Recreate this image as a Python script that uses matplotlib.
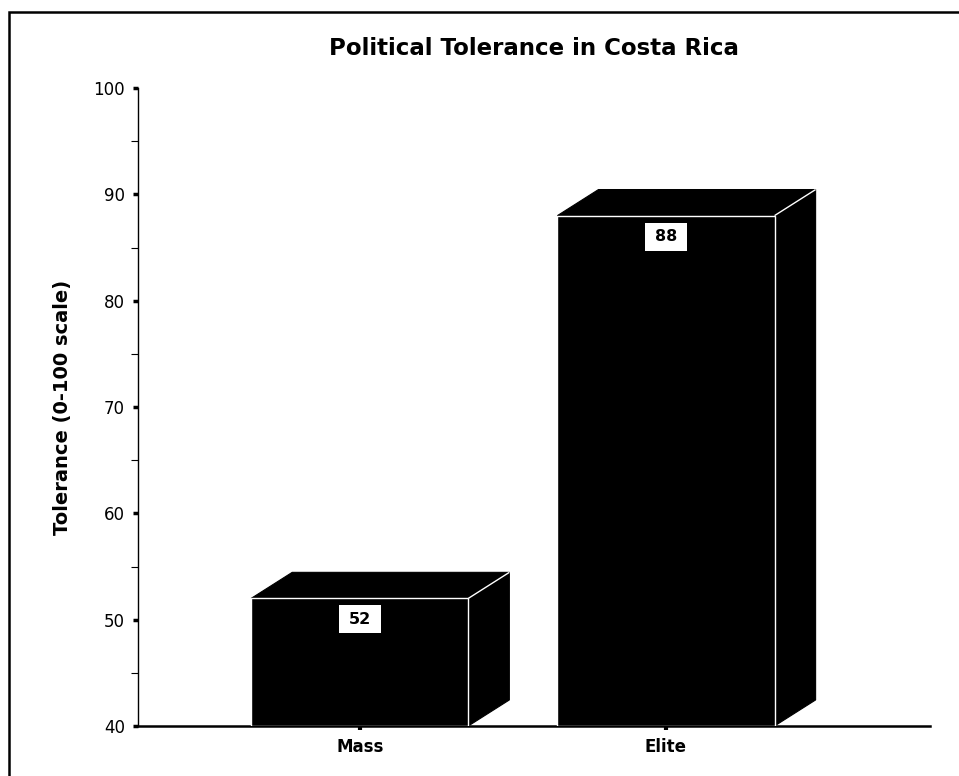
import matplotlib
matplotlib.use("Agg")
import matplotlib.pyplot as plt
from matplotlib.patches import Polygon, Rectangle

# Data
categories = ["Mass", "Elite"]
tolerance = [52, 88]
y_ticks = [40, 50, 60, 70, 80, 90, 100]
title_text = "Political Tolerance in Costa Rica"
y_label = "Tolerance (0-100 scale)"

BASE = 40
BAR_W = 0.709
DX, DY = 0.134, 2.45  # 3D depth offset in data units

plt.rcParams["font.family"] = ["DejaVu Sans"]

fig = plt.figure(figsize=(9.59, 7.76), dpi=100)
ax = fig.add_axes([138 / 959, 50 / 776, 792 / 959, 638 / 776])

xs = list(range(len(categories)))

for x, v in zip(xs, tolerance):
    left, right = x - BAR_W / 2, x + BAR_W / 2
    top = Polygon([(left, v), (right, v), (right + DX, v + DY), (left + DX, v + DY)],
                  closed=True, facecolor="black", edgecolor="black", lw=0.8, zorder=2)
    side = Polygon([(right, BASE), (right + DX, BASE + DY), (right + DX, v + DY), (right, v)],
                   closed=True, facecolor="black", edgecolor="black", lw=0.8, zorder=2)
    ax.add_patch(top)
    ax.add_patch(side)
    ax.plot([right, right + DX], [v, v + DY], color="white", lw=1.0, zorder=3,
            solid_capstyle="butt")

ax.bar(xs, [v - BASE for v in tolerance], bottom=BASE, width=BAR_W,
       color="black", edgecolor="white", linewidth=1.0, zorder=3)

# Value labels in white boxes near the top of each front face
box_w, box_h, box_gap = 0.137, 2.63, 0.66
for x, v in zip(xs, tolerance):
    ax.add_patch(Rectangle((x - box_w / 2, v - box_gap - box_h), box_w, box_h,
                           facecolor="white", edgecolor="none", zorder=4))
    ax.text(x, v - box_gap - box_h / 2, f"{v}", ha="center", va="center",
            fontsize=11.5, fontweight="bold", color="black", zorder=5)

ax.set_xlim(-0.724, 1.862)
ax.set_ylim(40, 100)

ax.set_yticks(y_ticks)
ax.set_yticks([t + 5 for t in y_ticks[:-1]], minor=True)
ax.set_xticks(xs)
ax.set_xticklabels(categories, fontsize=12, fontweight="bold")

ax.tick_params(axis="y", which="major", direction="out", length=3.5, width=2.5,
               labelsize=12, pad=6)
ax.tick_params(axis="y", which="minor", direction="out", length=5, width=0.8)
ax.tick_params(axis="x", which="major", direction="out", length=3, width=3, pad=6)

for s in ("top", "right"):
    ax.spines[s].set_visible(False)
ax.spines["left"].set_linewidth(1.0)
ax.spines["bottom"].set_linewidth(1.8)

ax.set_ylabel(y_label, fontsize=14, fontweight="bold", labelpad=15)
ax.set_title(title_text, fontsize=16.5, fontweight="bold", pad=24)

# Frame around the chart (runs off the right and bottom edges)
fig.patches.append(Rectangle((9 / 959, -0.1), 1.2, 1 - 12 / 776 + 0.1,
                             transform=fig.transFigure, fill=False,
                             edgecolor="black", linewidth=1.8))

fig.savefig("out.png", dpi=100)
